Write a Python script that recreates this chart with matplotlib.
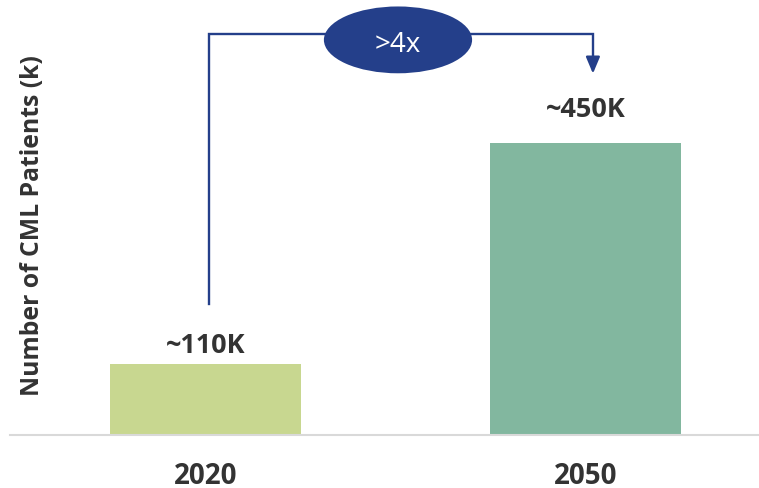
import matplotlib
matplotlib.use("Agg")
import matplotlib.pyplot as plt
from matplotlib.patches import Ellipse

# Data
years = ["2020", "2050"]
patients_k = [110, 450]
value_labels = ["~110K", "~450K"]
growth_label = ">4x"

bar_colors = ["#C8D790", "#82B79F"]
text_color = "#333333"
arrow_color = "#243F8A"

plt.rcParams["font.family"] = ["Open Sans", "DejaVu Sans"]

W, H = 759, 489
PX = 72 / 100  # points per pixel at 100 dpi
fig = plt.figure(figsize=(W / 100, H / 100), dpi=100)
ax = fig.add_axes([10 / W, (H - 436) / H, 749 / W, 436 / H])

x = list(range(len(years)))
ax.bar(x, patients_k, width=0.503, color=bar_colors, zorder=2)

ax.set_xlim(-0.514, 1.457)
ax.set_ylim(0, 672)

# Value labels above bars (baseline offset from bar top, in pixels)
label_gap_px = [12, 27]
for xi, v, lab, gap in zip(x, patients_k, value_labels, label_gap_px):
    ax.annotate(lab, (xi, v), xytext=(0, gap * PX), textcoords="offset points",
                ha="center", va="baseline", fontsize=19.5, fontweight="bold",
                color=text_color)

# Axis styling
for s in ["top", "right", "left"]:
    ax.spines[s].set_visible(False)
ax.spines["bottom"].set_color("#D9D9D9")
ax.spines["bottom"].set_linewidth(1.5)
ax.set_yticks([])
ax.set_xticks(x)
ax.set_xticklabels([])
ax.tick_params(axis="x", length=0)

# Category labels below the baseline
for xi, yr in zip(x, years):
    ax.annotate(yr, (xi, 0), xycoords=("data", "axes fraction"),
                xytext=(0, -48 * PX), textcoords="offset points",
                ha="center", va="baseline", fontsize=20, fontweight="bold",
                color=text_color, annotation_clip=False)

fig.text(33 / W, 1 - 226 / H, "Number of CML Patients (k)", rotation=90,
         ha="center", va="center", fontsize=17.8, fontweight="bold",
         color=text_color)

# Growth connector: up from 2020, across, down to 2050
y_start = 202
y_top = 618
y_tip = 557
x_left = x[0] + 0.009
x_right = x[1] + 0.02
ax.plot([x_left, x_left, x_right, x_right], [y_start, y_top, y_top, y_tip + 20],
        color=arrow_color, lw=1.7, solid_joinstyle="miter", zorder=3,
        clip_on=False)
ax.annotate("", xy=(x_right, y_tip), xytext=(x_right, y_tip + 24),
            arrowprops=dict(arrowstyle="-|>,head_length=1.0,head_width=0.42",
                            color=arrow_color, lw=1.7, shrinkA=0, shrinkB=0),
            annotation_clip=False)

ell_cx = 0.507
ell = Ellipse((ell_cx, 609), width=0.39, height=103, facecolor=arrow_color,
              edgecolor="none", zorder=4, clip_on=False)
ax.add_patch(ell)
ax.text(ell_cx, 592, growth_label, ha="center", va="baseline", fontsize=20,
        color="white", zorder=5)

fig.savefig("out.png", dpi=100)
